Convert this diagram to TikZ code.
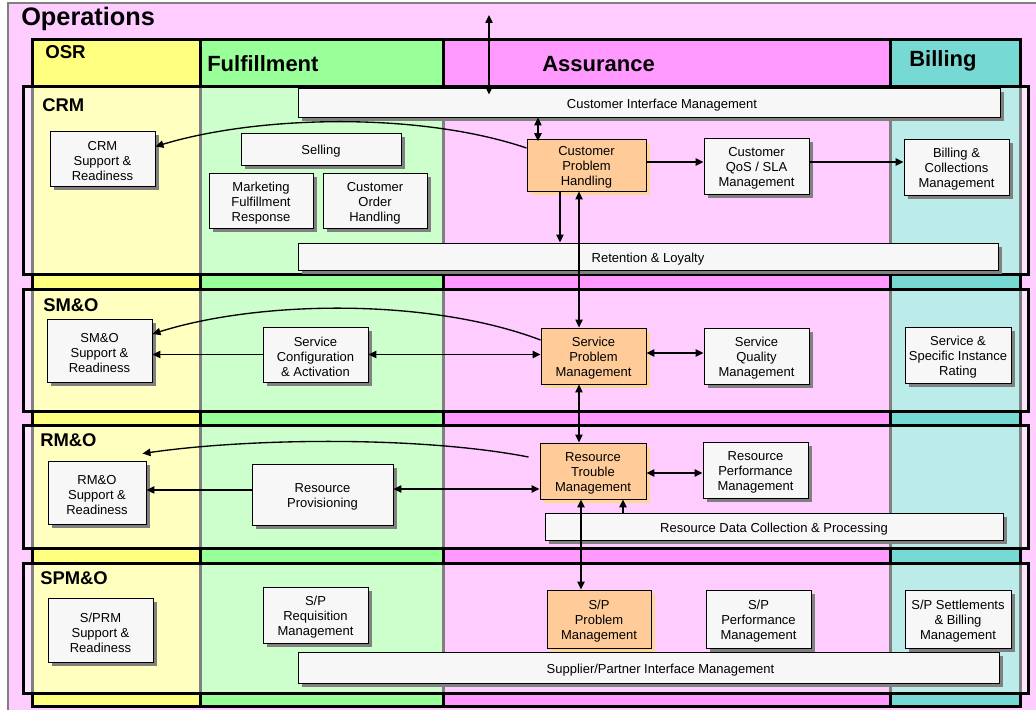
\documentclass[tikz,border=0pt]{standalone}
\usepackage{fontspec}
\setmainfont{Liberation Sans}
\usetikzlibrary{arrows.meta,shadows}
\definecolor{opsbg}{HTML}{FFCCFF}
\definecolor{osrhead}{HTML}{FFFF80}
\definecolor{fulhead}{HTML}{99FF99}
\definecolor{asshead}{HTML}{FF99FF}
\definecolor{bilhead}{HTML}{77D9D3}
\definecolor{boxfill}{HTML}{F7F7F7}
\definecolor{shadowgray}{HTML}{808080}
\definecolor{orangefill}{HTML}{FFCC99}
\definecolor{orangeshadow}{HTML}{FFD699}
\newcommand\firstline{\rule{0pt}{11pt}}
\tikzset{
  colbox/.style={draw=black, line width=2.25pt},
  rowbox/.style={draw=black, line width=2.25pt, fill=white, fill opacity=0.5},
  basebox/.style={draw=black, line width=0.7pt, align=center, inner sep=1pt,
    font=\fontsize{9.75}{11.25}\selectfont,
    execute at begin node={\firstline}},
  box/.style={basebox, fill=boxfill,
    drop shadow={shadow xshift=3pt, shadow yshift=-3pt, fill=shadowgray, opacity=1}},
  obox/.style={basebox, fill=orangefill,
    drop shadow={shadow xshift=3pt, shadow yshift=-3pt, fill=orangeshadow, opacity=1}},
  sz/.style 2 args={minimum width=#1*0.75pt, minimum height=#2*0.75pt},
  opslab/.style={inner sep=0pt, anchor=west, font=\fontsize{19}{21}\selectfont\bfseries},
  hdrbig/.style={inner sep=0pt, anchor=west, font=\fontsize{16.5}{18}\selectfont\bfseries},
  hdrsmall/.style={inner sep=0pt, anchor=west, font=\fontsize{14}{16}\selectfont\bfseries},
  rowlab/.style={inner sep=0pt, anchor=west, font=\fontsize{13.8}{16}\selectfont\bfseries},
  arr/.style={-{Triangle[length=6pt,width=5.5pt]}, line width=1pt},
  dbl/.style={{Triangle[length=6pt,width=5.5pt]}-{Triangle[length=6pt,width=5.5pt]}, line width=1pt},
}
\begin{document}
\begin{tikzpicture}[x=0.75pt,y=-0.75pt]
\clip (0,0) rectangle (1036,710);
\fill[white] (0,0) rectangle (1036,710);
% Operations frame
\draw[fill=opsbg, draw=shadowgray, line width=0.8pt] (8,3) rectangle (1045,725);
\node[opslab] (ops) at (21,19) {Operations};
% columns
\draw[colbox, fill=osrhead] (32,40) rectangle (200,706);
\draw[colbox, fill=fulhead] (200,40) rectangle (443,706);
\draw[colbox, fill=asshead] (443,40) rectangle (890,706);
\draw[colbox, fill=bilhead] (890,40) rectangle (1020,706);
\node[hdrsmall] (hosr) at (45,52) {OSR};
\node[hdrbig] (hful) at (207,64) {Fulfillment};
\node[hdrbig] (hass) at (542,64) {Assurance};
\node[hdrbig] (hbil) at (909,61) {Billing};
% rows
\draw[rowbox] (23,87) rectangle (1028,274);
\draw[rowbox] (23,289) rectangle (1028,411);
\draw[rowbox] (23,425) rectangle (1028,548);
\draw[rowbox] (23,563) rectangle (1028,693);
\node[rowlab] (lcrm) at (42,105) {CRM};
\node[rowlab] (lsmo) at (43,305) {SM\&O};
\node[rowlab] (lrmo) at (40,440) {RM\&O};
\node[rowlab] (lspmo) at (40,578) {SPM\&O};
% CRM boxes
\node[box, sz={702}{29}] (cim) at (649,102.5) {\hspace*{19.5pt}Customer Interface Management};
\node[box, sz={105}{55}] (crmsr) at (102.5,158.5) {\firstline CRM\\Support \&\\Readiness};
\node[box, sz={160}{32}] (sell) at (321,149) {Selling};
\node[box, sz={104}{55}] (mfr) at (261,200.5) {\firstline Marketing\\Fulfillment\\Response};
\node[box, sz={104}{55}] (coh) at (375,200.5) {\firstline Customer\\Order\\Handling};
\node[box, sz={700}{27}] (rl) at (648,256.5) {Retention \& Loyalty};
\node[obox, sz={119}{52}] (cph) at (586.5,165) {\firstline Customer\\Problem\\Handling};
\node[box, sz={105}{56}] (qos) at (756.5,166) {\firstline Customer\\QoS / SLA\\Management};
\node[box, sz={105}{56}] (bcm) at (956.5,167) {\firstline Billing \&\\Collections\\Management};
% SM&O boxes
\node[box, sz={105}{63}] (smosr) at (99.5,350.5) {\firstline SM\&O\\Support \&\\Readiness};
\node[box, sz={105}{55}] (sca) at (315.5,354.5) {\firstline Service\\Configuration\\\& Activation};
\node[obox, sz={105}{56}] (spm) at (593.5,356) {\firstline Service\\Problem\\Management};
\node[box, sz={105}{56}] (sqm) at (756.5,356) {\firstline Service\\Quality\\Management};
\node[box, sz={106}{56}] (ssir) at (958,355) {\firstline Service \&\\Specific Instance\\Rating};
% RM&O boxes
\node[box, sz={98}{63}] (rmosr) at (97,492.5) {\firstline RM\&O\\Support \&\\Readiness};
\node[box, sz={141}{61}] (rp) at (322.5,494.5) {\firstline Resource\\Provisioning};
\node[obox, sz={106}{56}] (rtm) at (593,471) {\firstline Resource\\Trouble\\Management};
\node[box, sz={105}{56}] (rpm) at (755.5,470) {\firstline Resource\\Performance\\Management};
\node[box, sz={458}{27}] (rdcp) at (774,526.5) {Resource Data Collection \& Processing};
% SPM&O boxes
\node[box, sz={105}{64}] (sprm) at (100.5,630) {\firstline S/PRM\\Support \&\\Readiness};
\node[box, sz={105}{56}] (spreq) at (315.5,615) {\firstline S/P\\Requisition\\Management};
\node[box, sz={701}{31}] (spim) at (648.5,667.5) {\hspace*{18pt}Supplier/Partner Interface Management};
\node[obox, sz={104}{58}] (sppm) at (599,619) {\firstline S/P\\Problem\\Management};
\node[box, sz={105}{58}] (spperf) at (758.5,619) {\firstline S/P\\Performance\\Management};
\node[box, sz={106}{58}] (spsbm) at (958,619) {\firstline S/P Settlements\\\& Billing\\Management};
% connectors
\coordinate (topend) at (489,15);
\draw[dbl] (topend) -- ([yshift=-5.25pt]topend |- cim.north);
\draw[dbl] ([xshift=-36.4pt]cph.north |- cim.south) -- ([xshift=-36.4pt,yshift=-2pt]cph.north);
\draw[arr] ([yshift=12.75pt]cph.west) .. controls (420,112) and (260,115) .. ([yshift=9pt]crmsr.east);
\draw[arr] ([yshift=2.25pt]cph.east) -- ([yshift=2.25pt]cph.east -| qos.west);
\draw[arr] ([yshift=3pt]qos.east) -- ([yshift=3pt]qos.east -| bcm.west);
\draw[arr] ([xshift=-19.9pt]cph.south) -- ([xshift=-19.9pt]cph.south |- rl.north);
\draw[dbl] ([xshift=-5.6pt]cph.south) -- ([xshift=-5.6pt]cph.south |- spm.north);
\draw[dbl] ([xshift=-10.9pt]spm.south) -- ([xshift=-10.9pt]spm.south |- rtm.north);
\draw[dbl] ([xshift=-9pt]rtm.south) -- ([xshift=-9pt]rtm.south |- sppm.north);
\draw[arr] ([xshift=22.5pt]rtm.south |- rdcp.north) -- ([xshift=22.5pt]rtm.south);
\draw[dbl] ([yshift=2.25pt]spm.east) -- ([yshift=2.25pt]spm.east -| sqm.west);
\draw[dbl] ([yshift=-1.5pt]rtm.east) -- ([yshift=-1.5pt]rtm.east -| rpm.west);
\draw[dbl] (sca.east) -- (sca.east -| spm.west);
\draw[arr] (sca.west) -- (sca.west -| smosr.east);
\draw[arr] ([yshift=12pt]spm.west) .. controls (430,298) and (260,300) .. ([yshift=12.4pt]smosr.east);
\draw[arr] ([xshift=-8.25pt,yshift=10.5pt]rtm.west) .. controls (420,436) and (250,438) .. ([xshift=-3pt,yshift=5.25pt]rmosr.north east);
\draw[dbl] ([yshift=-13.5pt]rtm.west) -- ([yshift=-13.5pt]rtm.west -| rp.east);
\draw[arr] ([yshift=3.4pt]rp.west) -- ([yshift=3.4pt]rp.west -| rmosr.east);
\end{tikzpicture}
\end{document}
